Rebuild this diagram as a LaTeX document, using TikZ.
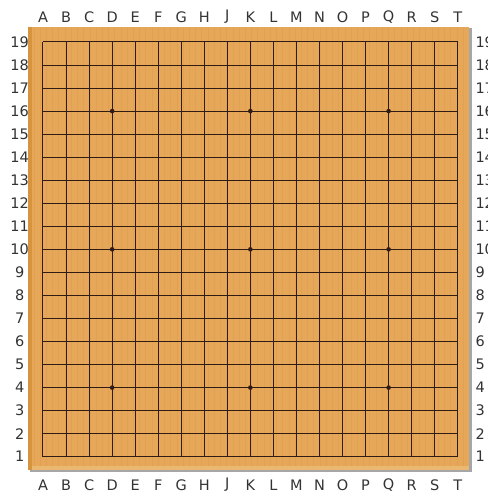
\documentclass[tikz,border=0pt]{standalone}
\usepackage{fontspec}
\setmainfont{DejaVu Sans}
\usetikzlibrary{positioning}
\definecolor{boardwood}{RGB}{230,167,88}
\definecolor{boardedge}{RGB}{214,148,62}
\definecolor{boardlight}{RGB}{234,184,112}
\definecolor{boardgrain}{RGB}{222,158,82}
\definecolor{gridink}{RGB}{48,28,20}
\begin{document}
\begin{tikzpicture}[x=23.04pt,y=23.04pt,
  gridline/.style={gridink,line width=1pt},
  coordlbl/.style={font=\fontsize{14.5}{15}\selectfont,text=black!80,inner sep=1pt}]
\useasboundingbox (-1.866,-1.619) rectangle (19.314,19.822);
% board with shadow
\fill[black!35] (-0.55,-0.664) rectangle (18.63,18.61);
\fill[boardwood] (-0.664,-0.569) rectangle (18.50,18.65);
\fill[boardedge] (-0.664,-0.569) rectangle (-0.48,18.65);
\fill[boardlight] (-0.48,-0.569) rectangle (18.50,-0.42);
\foreach \g in {-0.4,-0.13,...,18.4}{\draw[boardgrain,line width=0.5pt,opacity=0.6] (\g,-0.42)--(\g,18.65);}
% grid
\foreach \i in {0,...,18}{
  \draw[gridline] (\i,0)--(\i,18);
  \draw[gridline] (0,\i)--(18,\i);}
\foreach \x in {3,9,15}{\foreach \y in {3,9,15}{\fill[gridink] (\x,\y) circle (2.3pt);}}
% coordinates
\foreach \c [count=\i from 0] in {A,B,C,D,E,F,G,H,J,K,L,M,N,O,P,Q,R,S,T}{
  \node[coordlbl] (top-\c) at (\i,19.08) {\c};
  \node[coordlbl] (bot-\c) at (\i,-1.23) {\c};}
\foreach \n in {1,...,19}{
  \node[coordlbl] (left-\n) at (-1.01,\n-1) {\n};
  \node[coordlbl,anchor=west] (right-\n) at (18.72,\n-1) {\n};}
\end{tikzpicture}
\end{document}
